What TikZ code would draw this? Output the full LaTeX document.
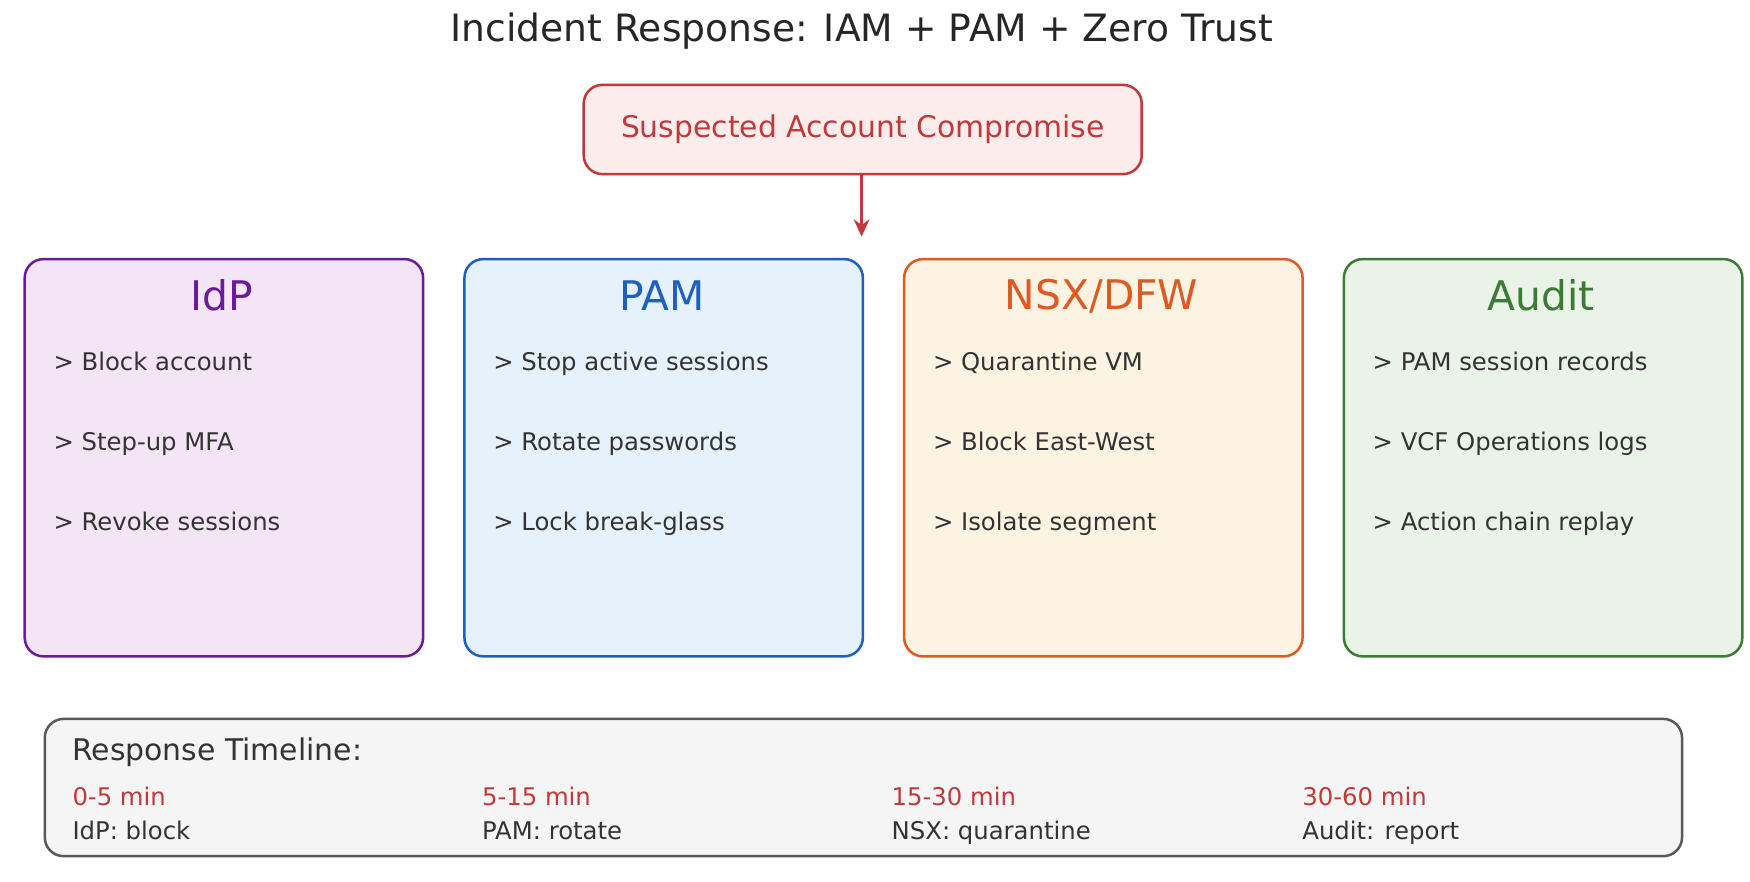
\documentclass[tikz,border=0pt]{standalone}
\usepackage{fontspec}
\setmainfont{DejaVu Sans}
\usetikzlibrary{positioning}
\usetikzlibrary{arrows.meta}
\definecolor{alarm}{HTML}{C0393B}
\definecolor{alarmbg}{HTML}{FDECEC}
\definecolor{idpc}{HTML}{6A1B9A}
\definecolor{idpbg}{HTML}{F3E5F5}
\definecolor{pamc}{HTML}{1F5FBF}
\definecolor{pambg}{HTML}{E5F1FB}
\definecolor{nsxc}{HTML}{DD5A22}
\definecolor{nsxbg}{HTML}{FDF3E3}
\definecolor{audc}{HTML}{3C7A35}
\definecolor{audbg}{HTML}{EAF3E8}
\definecolor{txt}{HTML}{333333}

\begin{document}
\begin{tikzpicture}[x=0.025cm,y=-0.025cm]
      \tikzset{panel/.style={draw, line width=1.6pt, rounded corners=12pt, minimum width=357*0.025cm, minimum height=356*0.025cm, anchor=north west}};
      \tikzset{head/.style={font=\fontsize{26}{30}\selectfont}};
      \tikzset{item/.style={font=\fontsize{15.5}{18}\selectfont, text=txt, anchor=base west}};
      \tikzset{tline/.style={font=\fontsize{15.5}{18}\selectfont, anchor=base west}};
      \useasboundingbox (0,0) rectangle (1568,790);
      \node[font=\fontsize{24}{28}\selectfont, text=black!85] (title) at (772,28) {Incident Response: IAM + PAM + Zero Trust};
      \node[draw=alarm, fill=alarmbg, line width=1.6pt, rounded corners=12pt, minimum width=500*0.025cm, minimum height=80*0.025cm, text=alarm, font=\fontsize{19}{22}\selectfont] (alert) at (773,116) {Suspected Account Compromise};
      \coordinate (hit) at (772,212);
      \draw[alarm, line width=1.6pt, -{Stealth[length=11pt,width=10pt]}] (alert.south -| hit) -- (hit);

      % columns
      \node[panel, draw=idpc, fill=idpbg] (idp) at (21,231) {};
      \node[panel, draw=pamc, fill=pambg] (pam) at (415,231) {};
      \node[panel, draw=nsxc, fill=nsxbg] (nsx) at (809,231) {};
      \node[panel, draw=audc, fill=audbg] (aud) at (1203,231) {};

      \node[head, text=idpc] (idpH) at (199,265) {IdP};
      \node[head, text=pamc] (pamH) at (593,265) {PAM};
      \node[head, text=nsxc] (nsxH) at (987,265) {NSX/DFW};
      \node[head, text=audc] (audH) at (1381,265) {Audit};

      \node[item] (idp1) at (43,332) {> Block account};
      \node[item] (idp2) at (43,404) {> Step-up MFA};
      \node[item] (idp3) at (43,475) {> Revoke sessions};
      \node[item] (pam1) at (437,332) {> Stop active sessions};
      \node[item] (pam2) at (437,404) {> Rotate passwords};
      \node[item] (pam3) at (437,475) {> Lock break-glass};
      \node[item] (nsx1) at (831,332) {> Quarantine VM};
      \node[item] (nsx2) at (831,404) {> Block East-West};
      \node[item] (nsx3) at (831,475) {> Isolate segment};
      \node[item] (aud1) at (1225,332) {> PAM session records};
      \node[item] (aud2) at (1225,404) {> VCF Operations logs};
      \node[item] (aud3) at (1225,475) {> Action chain replay};

      % timeline
      \node[draw=black!65, fill=black!4, line width=1.6pt, rounded corners=12pt, minimum width=1467*0.025cm, minimum height=123*0.025cm, anchor=north west] (tl) at (39,643) {};
      \node[font=\fontsize{19}{22}\selectfont, text=txt, anchor=base west] (tlH) at (60,681) {Response Timeline:};
      \node[tline, text=alarm] (t1) at (60,722) {0-5 min};
      \node[tline, text=txt] (s1) at (60,752) {IdP: block};
      \node[tline, text=alarm] (t2) at (427,722) {5-15 min};
      \node[tline, text=txt] (s2) at (427,752) {PAM: rotate};
      \node[tline, text=alarm] (t3) at (794,722) {15-30 min};
      \node[tline, text=txt] (s3) at (794,752) {NSX: quarantine};
      \node[tline, text=alarm] (t4) at (1162,722) {30-60 min};
      \node[tline, text=txt] (s4) at (1162,752) {Audit: report};
\end{tikzpicture}
\end{document}
